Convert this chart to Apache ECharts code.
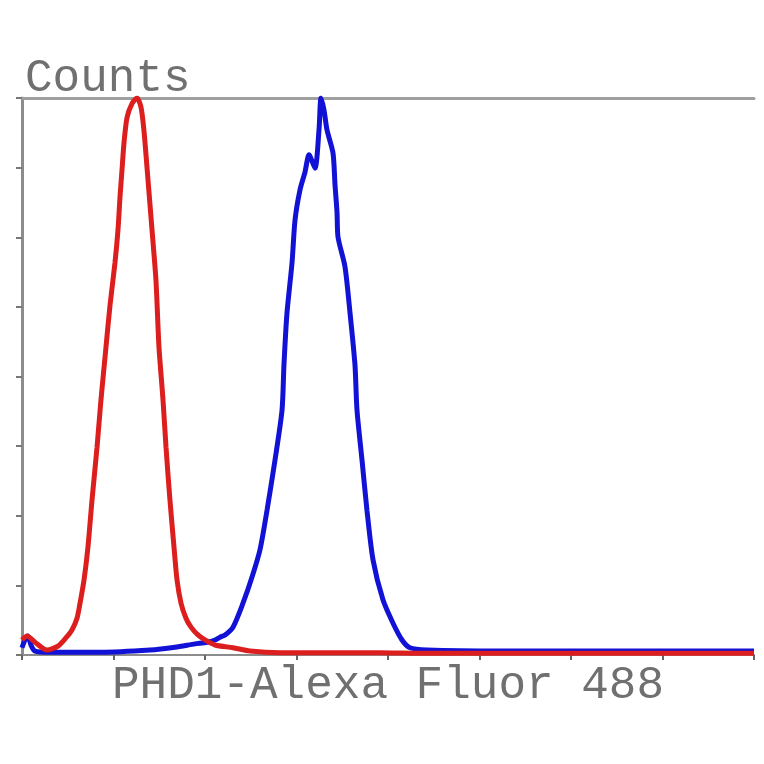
<!DOCTYPE html>
<html>
<head>
<meta charset="utf-8">
<script src="https://cdn.jsdelivr.net/npm/echarts@6/dist/echarts.min.js"></script>
<style>
html,body{margin:0;padding:0;background:#fff;}
#chart{width:764px;height:764px;}
</style>
</head>
<body>
<div id="chart"></div>
<script>
// Fluorescence intensity (axis units, 0..8 decades-like) and relative counts (0..100)
var xAxisTitle = 'PHD1-Alexa Fluor 488';
var yAxisTitle = 'Counts';

var redX = [0, 0.055, 0.142, 0.273, 0.393, 0.481, 0.546, 0.601, 0.634, 0.678, 0.721, 0.765, 0.820, 0.863, 0.918, 0.962, 1.016, 1.049, 1.071, 1.093, 1.115, 1.148, 1.202, 1.257, 1.300, 1.332, 1.377, 1.421, 1.464, 1.497, 1.541, 1.574, 1.617, 1.661, 1.694, 1.738, 1.792, 1.847, 1.923, 2.000, 2.109, 2.306, 2.492, 2.820, 3.257, 3.913, 4.350, 5.224, 6.317, 8.0];
var redY = [2.7, 3.4, 2.3, 0.9, 1.6, 3.1, 4.5, 6.6, 9.3, 13.5, 19.4, 27.8, 37.3, 45.8, 55.3, 62.8, 70.4, 76.3, 82.2, 87.1, 92.0, 96.5, 99.0, 100, 98.4, 94.3, 85.3, 76.3, 67.3, 55.3, 45.8, 37.3, 27.8, 19.4, 13.5, 9.3, 6.6, 5.0, 3.6, 2.7, 1.8, 1.3, 0.7, 0.4, 0.4, 0.4, 0.3, 0.3, 0.3, 0.3];

var blueX = [0, 0.033, 0.066, 0.098, 0.142, 0.306, 0.852, 1.399, 1.672, 1.891, 2.022, 2.109, 2.164, 2.219, 2.306, 2.415, 2.514, 2.601, 2.678, 2.765, 2.842, 2.863, 2.896, 2.951, 2.984, 3.038, 3.093, 3.137, 3.202, 3.246, 3.268, 3.301, 3.333, 3.399, 3.421, 3.443, 3.454, 3.530, 3.585, 3.639, 3.661, 3.716, 3.770, 3.836, 3.945, 4.055, 4.153, 4.240, 4.426, 5.224, 8.0];
var blueY = [1.3, 2.7, 3.4, 1.8, 0.7, 0.5, 0.5, 0.9, 1.4, 2.0, 2.3, 2.7, 3.2, 3.6, 5.0, 9.3, 14.0, 18.9, 26.0, 35.0, 44.0, 52.1, 61.4, 70.4, 78.1, 83.5, 86.7, 89.8, 87.4, 94.3, 100, 97.8, 94.3, 90.1, 84.4, 79.4, 75.0, 69.7, 61.4, 52.1, 44.0, 35.0, 26.0, 17.1, 9.9, 5.7, 2.7, 1.3, 0.9, 0.7, 0.7];

function pairs(xs, ys){ return xs.map(function(x,i){ return [x, ys[i]]; }); }

var chart = echarts.init(document.getElementById('chart'), null, {renderer:'canvas'});
var axisGray = '#8c8c8c';
var textGray = '#707070';
chart.setOption({
  animation: false,
  backgroundColor: '#fff',
  grid: {left: 22, right: 10, top: 98, bottom: 109, containLabel: false},
  xAxis: [{
    type: 'value', min: 0, max: 8, interval: 1, position: 'bottom',
    axisLine: {show: true, onZero: false, lineStyle: {color: axisGray, width: 2}},
    axisTick: {show: true, inside: false, length: 5, lineStyle: {color: '#666', width: 2}},
    axisLabel: {show: false},
    splitLine: {show: false},
    name: xAxisTitle, nameLocation: 'middle', nameGap: 8,
    nameTextStyle: {fontFamily: 'Liberation Mono', fontSize: 46, color: textGray, verticalAlign: 'top'}
  }, {
    type: 'value', min: 0, max: 8, position: 'top',
    axisLine: {show: true, onZero: false, lineStyle: {color: '#a0a0a0', width: 3}},
    axisTick: {show: false}, axisLabel: {show: false}, splitLine: {show: false}
  }],
  yAxis: {
    type: 'value', min: 0, max: 100, interval: 12.5,
    axisLine: {show: true, onZero: false, lineStyle: {color: axisGray, width: 3}},
    axisTick: {show: true, inside: false, length: 6, lineStyle: {color: '#777', width: 2}},
    axisLabel: {show: false},
    splitLine: {show: false},
    name: yAxisTitle, nameLocation: 'end', nameGap: -4,
    nameTextStyle: {fontFamily: 'Liberation Mono', fontSize: 46, color: textGray, align: 'left', verticalAlign: 'bottom', padding: [0, 0, 0, 3]}
  },
  series: [{
    type: 'line', name: 'PHD1', data: pairs(blueX, blueY), showSymbol: false, smooth: 0.25,
    lineStyle: {color: '#1212d6', width: 5}, z: 2
  }, {
    type: 'line', name: 'Isotype', data: pairs(redX, redY), showSymbol: false, smooth: 0.25,
    lineStyle: {color: '#dc1e1e', width: 5}, z: 3
  }]
});
</script>
</body>
</html>
